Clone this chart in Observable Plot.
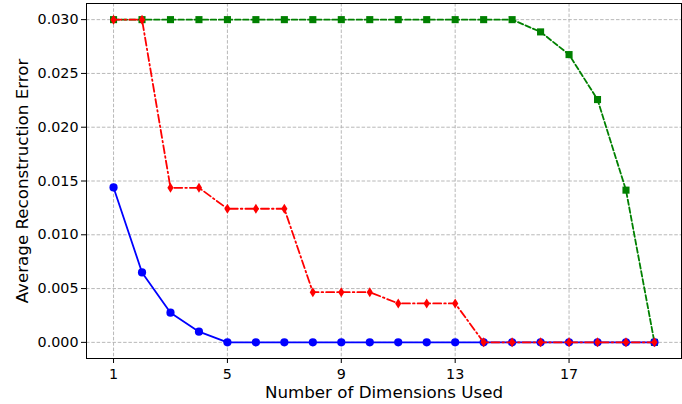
<!DOCTYPE html>
<html>
<head>
<meta charset="utf-8">
<script src="https://cdn.jsdelivr.net/npm/d3@7"></script>
<script src="https://cdn.jsdelivr.net/npm/@observablehq/plot@0.6"></script>
<style>
  body { margin: 0; background: white; }
  #chart svg { display: block; }
</style>
</head>
<body>
<div id="chart"></div>
<script>
const dims = [1,2,3,4,5,6,7,8,9,10,11,12,13,14,15,16,17,18,19,20];
const blueSeries = [0.0144,0.0065,0.00276,0.00099,0,0,0,0,0,0,0,0,0,0,0,0,0,0,0,0];
const redSeries = [0.030,0.030,0.01437,0.01437,0.01242,0.01242,0.01242,0.00467,0.00467,0.00467,0.00362,0.00362,0.00362,0,0,0,0,0,0,0];
const greenSeries = [0.030,0.030,0.030,0.030,0.030,0.030,0.030,0.030,0.030,0.030,0.030,0.030,0.030,0.030,0.030,0.02886,0.02675,0.02257,0.01415,0];
const xTicks = [1,5,9,13,17];
const yTicks = [0,0.005,0.010,0.015,0.020,0.025,0.030];
const xLabel = "Number of Dimensions Used";
const yLabel = "Average Reconstruction Error";

const toRows = (arr) => dims.map((d, i) => ({x: d, y: arr[i]}));
const blueRows = toRows(blueSeries);
const redRows = toRows(redSeries);
const greenRows = toRows(greenSeries);

const thinDiamond = {
  draw(ctx, size) {
    const r = Math.sqrt(size / Math.PI);
    const h = r * 1.25, w = r * 0.78;
    ctx.moveTo(0, -h); ctx.lineTo(w, 0); ctx.lineTo(0, h); ctx.lineTo(-w, 0); ctx.closePath();
  }
};

const gridStyle = {stroke: "#b0b0b0", strokeOpacity: 1, strokeWidth: 0.9, strokeDasharray: "3.5,1.8"};

const chart = Plot.plot({
  width: 682,
  height: 404,
  marginLeft: 86,
  marginRight: 1,
  marginTop: 3,
  marginBottom: 46,
  style: {fontFamily: "DejaVu Sans", fontSize: "14px", background: "white", color: "black"},
  x: {domain: [0.05, 20.95]},
  y: {domain: [-0.0015, 0.0315]},
  marks: [
    Plot.gridX(xTicks, gridStyle),
    Plot.gridY(yTicks, gridStyle),
    Plot.axisX(xTicks, {tickSize: 5, tickPadding: 5, fontSize: 14.3, label: null, stroke: "black"}),
    Plot.axisY(yTicks, {tickSize: 5, tickPadding: 3, fontSize: 14.3, label: null, tickFormat: d3.format(".3f"), stroke: "black"}),
    Plot.text([xLabel], {frameAnchor: "bottom", textAnchor: "middle", lineAnchor: "middle", dy: 34, fontSize: 16.7, fill: "black"}),
    Plot.text([yLabel], {frameAnchor: "left", textAnchor: "middle", lineAnchor: "middle", dx: -64, rotate: -90, fontSize: 16.7, fill: "black"}),
    Plot.line(greenRows, {x: "x", y: "y", stroke: "#008000", strokeWidth: 1.8, strokeDasharray: "5.5,2.6"}),
    Plot.dot(greenRows, {x: "x", y: "y", symbol: "square", r: 4, fill: "#008000"}),
    Plot.line(blueRows, {x: "x", y: "y", stroke: "#0000ff", strokeWidth: 1.8}),
    Plot.dot(blueRows, {x: "x", y: "y", symbol: "circle", r: 4.1, fill: "#0000ff"}),
    Plot.line(redRows, {x: "x", y: "y", stroke: "#ff0000", strokeWidth: 1.8, strokeDasharray: "8,3,1.6,3"}),
    Plot.dot(redRows, {x: "x", y: "y", symbol: thinDiamond, r: 4, fill: "#ff0000"}),
    Plot.frame({stroke: "black", strokeWidth: 1})
  ]
});
document.getElementById("chart").appendChild(chart);
</script>
</body>
</html>
